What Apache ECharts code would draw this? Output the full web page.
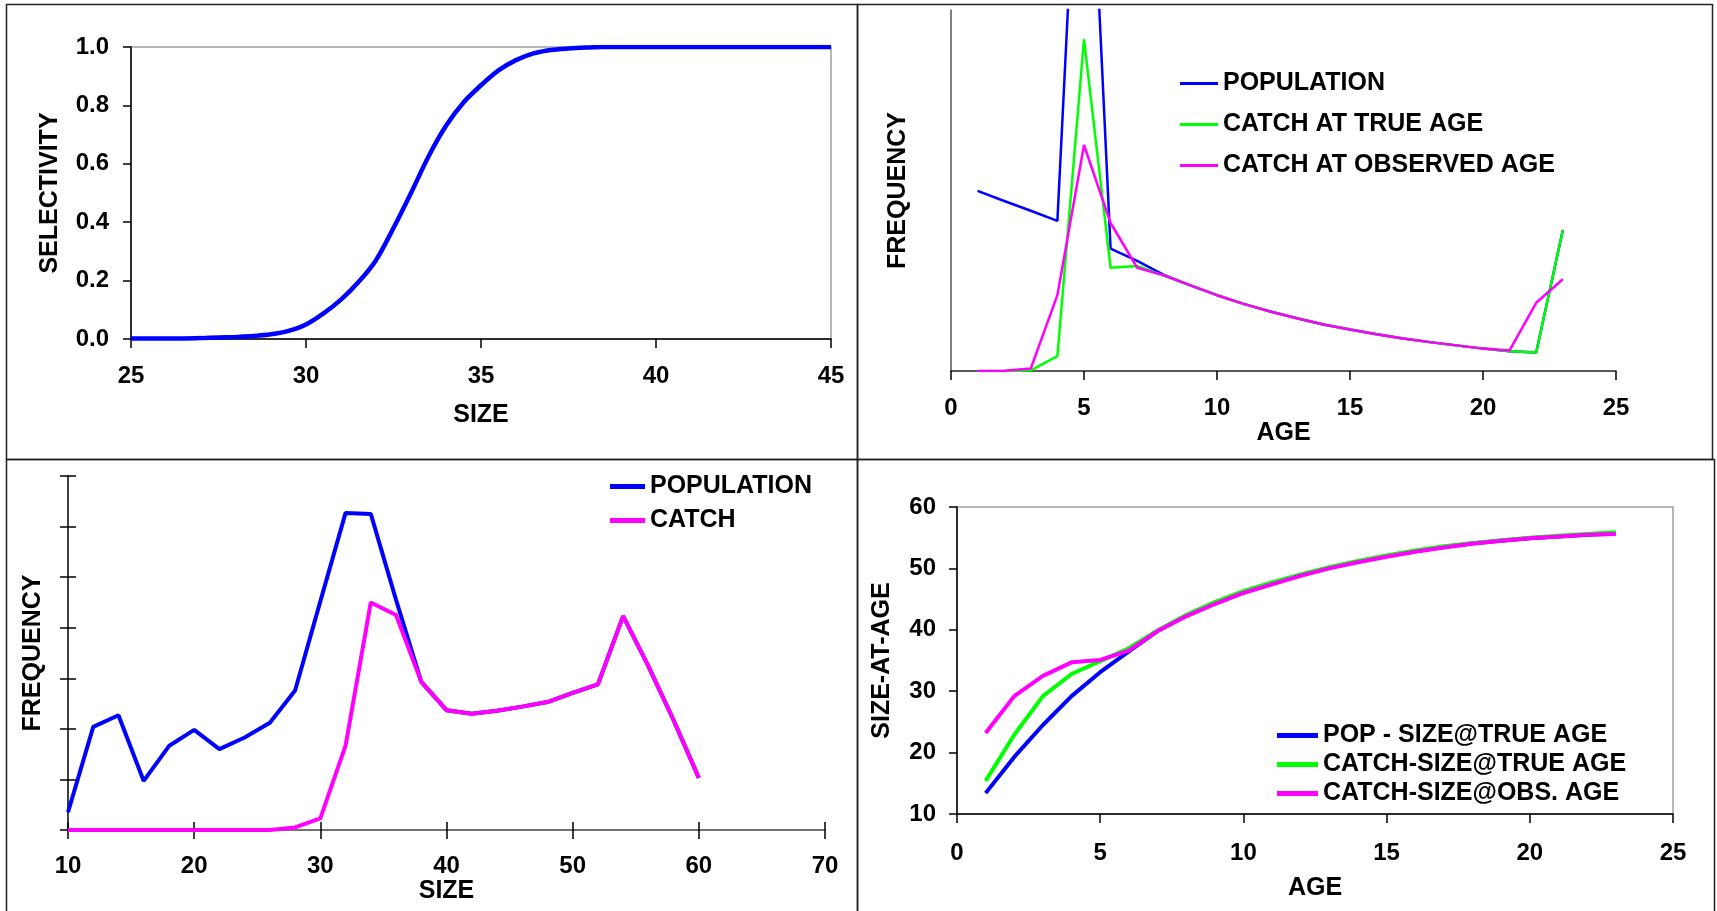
<!DOCTYPE html>
<html>
<head>
<meta charset="utf-8">
<title>Selectivity, frequency and size-at-age</title>
<script src="https://cdn.jsdelivr.net/npm/echarts@6/dist/echarts.min.js"></script>
<style>
  html, body { margin: 0; padding: 0; background: #fff; }
  #main { width: 1717px; height: 911px; }
</style>
</head>
<body>
<div id="main"></div>
<script>
// --- top left: selectivity curve
var selSize = [25, 25.5, 26, 26.5, 27, 27.5, 28, 28.5, 29, 29.5, 30, 30.5, 31, 31.5, 32, 32.5, 33, 33.5,
    34, 34.5, 35, 35.5, 36, 36.5, 37, 37.5, 38, 38.5, 39, 39.5, 40, 40.5, 41, 41.5, 42, 42.5, 43, 43.5, 44, 44.5, 45];
var selValue = [0.002, 0.002, 0.002, 0.002, 0.003, 0.005, 0.007, 0.010, 0.016, 0.028, 0.050, 0.088, 0.135, 0.195,
    0.270, 0.380, 0.500, 0.625, 0.730, 0.810, 0.869, 0.920, 0.955, 0.978, 0.990, 0.995, 0.998, 1.0, 1.0, 1.0,
    1.0, 1.0, 1.0, 1.0, 1.0, 1.0, 1.0, 1.0, 1.0, 1.0, 1.0];

// --- top right: frequency at age
var ages = [1, 2, 3, 4, 5, 6, 7, 8, 9, 10, 11, 12, 13, 14, 15, 16, 17, 18, 19, 20, 21, 22, 23];
var popAge = [49.9, 47.1, 44.4, 41.6, 190, 33.9, 30.5, 26.6, 23.7, 21.0, 18.6, 16.5, 14.6, 12.9, 11.5, 10.2, 9.0, 8.0, 7.1, 6.2, 5.5, 5.1, 39.0];
var catchTrueAge = [0, 0, 0.2, 4.1, 91.9, 28.6, 29.1, 26.4, 23.7, 21.0, 18.6, 16.5, 14.6, 12.9, 11.5, 10.2, 9.0, 8.0, 7.1, 6.2, 5.5, 5.1, 39.0];
var catchObsAge = [0, 0.05, 0.7, 21.0, 62.6, 41.0, 28.6, 26.5, 23.7, 21.0, 18.6, 16.5, 14.6, 12.9, 11.5, 10.2, 9.0, 8.0, 7.1, 6.2, 5.7, 18.9, 25.4];

// --- bottom left: frequency at size
var sizes = [10, 12, 14, 16, 18, 20, 22, 24, 26, 28, 30, 32, 34, 36, 38, 40, 42, 44, 46, 48, 50, 52, 54, 56, 58, 60];
var popSize = [0.35, 2.04, 2.27, 0.97, 1.66, 1.98, 1.60, 1.83, 2.12, 2.76, 4.52, 6.27, 6.25, 4.55, 2.93, 2.37, 2.30,
    2.36, 2.44, 2.53, 2.71, 2.88, 4.23, 3.24, 2.17, 1.03];
var catchSize = [0, 0, 0, 0, 0, 0, 0, 0, 0, 0.05, 0.23, 1.67, 4.50, 4.25, 2.93, 2.37, 2.30,
    2.36, 2.44, 2.53, 2.71, 2.88, 4.23, 3.24, 2.17, 1.03];

// --- bottom right: size at age
var popLen = [13.4, 19.3, 24.5, 29.2, 33.1, 36.5, 39.8, 42.3, 44.3, 46.1, 47.5, 48.9, 50.1, 51.1, 52.0, 52.8, 53.5, 54.1, 54.5, 54.9, 55.2, 55.5, 55.7];
var catchLenTrue = [15.4, 22.9, 29.2, 32.8, 34.9, 37.0, 39.9, 42.4, 44.5, 46.3, 47.7, 49.0, 50.2, 51.2, 52.1, 52.9, 53.6, 54.1, 54.6, 55.0, 55.3, 55.6, 55.9];
var catchLenObs = [23.2, 29.2, 32.5, 34.7, 35.1, 36.6, 39.8, 42.2, 44.2, 46.0, 47.4, 48.8, 50.0, 51.0, 51.9, 52.7, 53.4, 54.0, 54.5, 54.9, 55.2, 55.5, 55.6];

var FONT = "'Liberation Sans', Arial, sans-serif";
var BLUE = "#0000ff", GREEN = "#00ff00", MAGENTA = "#ff00ff";

function pairs(xs, ys) {
    return xs.map(function (x, i) { return [x, ys[i]]; });
}

function lineSeries(name, xi, data, color, width) {
    return {
        name: name, type: "line", xAxisIndex: xi, yAxisIndex: xi,
        data: data, symbol: "none", color: color,
        lineStyle: { color: color, width: width }
    };
}

var label = { color: "#000", fontFamily: FONT, fontWeight: "bold", fontSize: 24 };
var title = { color: "#000", fontFamily: FONT, fontWeight: "bold", fontSize: 25 };
var legendText = { color: "#000", fontFamily: FONT, fontWeight: "bold", fontSize: 25 };

function xAx(grid, min, max, step, name, gap, labelMargin, lineColor) {
    return {
        type: "value", gridIndex: grid, min: min, max: max, interval: step, position: "bottom",
        name: name, nameLocation: "middle", nameGap: gap, nameTextStyle: title,
        axisLine: { show: true, onZero: false, lineStyle: { color: lineColor || "#000", width: 1.5 } },
        axisTick: { show: true, length: 9, lineStyle: { color: "#000", width: 1.5 } },
        axisLabel: Object.assign({ margin: labelMargin }, label),
        splitLine: { show: false }
    };
}

function yAx(grid, min, max, step, name, gap, opts) {
    var a = {
        type: "value", gridIndex: grid, min: min, max: max, interval: step, position: "left",
        name: name, nameLocation: "middle", nameGap: gap, nameRotate: 90, nameTextStyle: title,
        axisLine: { show: true, onZero: false, lineStyle: { color: "#000", width: 1.5 } },
        axisTick: { show: true, length: 8, lineStyle: { color: "#000", width: 1.5 } },
        axisLabel: Object.assign({ margin: 22 }, label),
        splitLine: { show: false }
    };
    return Object.assign(a, opts || {});
}

var chart = echarts.init(document.getElementById("main"), null, { renderer: "canvas" });

var option = {
    animation: false,
    backgroundColor: "#fff",
    grid: [
        { left: 131, top: 47, width: 700, height: 292, show: true, borderColor: "#a0a0a0", borderWidth: 1.5 },
        { left: 951, top: 10, width: 665, height: 361 },
        { left: 68, top: 476, width: 757, height: 354 },
        { left: 957, top: 507, width: 716, height: 307, show: true, borderColor: "#a0a0a0", borderWidth: 1.5 }
    ],
    xAxis: [
        xAx(0, 25, 45, 5, "SIZE", 64, 25),
        xAx(1, 0, 25, 5, "AGE", 50, 25, "#222"),
        xAx(2, 10, 70, 10, "SIZE", 46, 24, "#444"),
        xAx(3, 0, 25, 5, "AGE", 62, 27),
        // inside half of the cross ticks on the size axis
        {
            type: "value", gridIndex: 2, min: 10, max: 70, interval: 10, position: "bottom",
            axisLine: { show: false }, axisLabel: { show: false }, splitLine: { show: false },
            axisTick: { show: true, inside: true, length: 8, lineStyle: { color: "#000", width: 1.5 } }
        }
    ],
    yAxis: [
        yAx(0, 0, 1, 0.2, "SELECTIVITY", 68, {
            axisLabel: Object.assign({ margin: 22, formatter: function (v) { return v.toFixed(1); } }, label)
        }),
        yAx(1, 0, 100, 20, "FREQUENCY", 40, {
            axisLine: { show: true, onZero: false, lineStyle: { color: "#555", width: 1.5 } },
            axisTick: { show: false }, axisLabel: { show: false }
        }),
        yAx(2, 0, 7, 1, "FREQUENCY", 22, { axisLabel: { show: false } }),
        yAx(3, 10, 60, 10, "SIZE-AT-AGE", 62, { axisLabel: Object.assign({ margin: 21 }, label) }),
        {
            type: "value", gridIndex: 2, min: 0, max: 7, interval: 1, position: "left",
            axisLine: { show: false }, axisLabel: { show: false }, splitLine: { show: false },
            axisTick: { show: true, inside: true, length: 8, lineStyle: { color: "#000", width: 1.5 } }
        }
    ],
    legend: [
        {
            data: ["POPULATION", "CATCH AT TRUE AGE", "CATCH AT OBSERVED AGE"],
            orient: "vertical", left: 1175, top: 66, icon: "rect", itemWidth: 38, itemHeight: 3, itemGap: 16,
            textStyle: legendText, selectedMode: false
        },
        {
            data: ["POPULATION", "CATCH"],
            orient: "vertical", left: 605, top: 469, icon: "rect", itemWidth: 35, itemHeight: 5, itemGap: 9,
            textStyle: legendText, selectedMode: false
        },
        {
            data: ["POP - SIZE@TRUE AGE", "CATCH-SIZE@TRUE AGE", "CATCH-SIZE@OBS. AGE"],
            orient: "vertical", left: 1272, top: 718, icon: "rect", itemWidth: 41, itemHeight: 5, itemGap: 4,
            textStyle: legendText, selectedMode: false
        }
    ],
    graphic: [
        { type: "rect", shape: { x: 6.5, y: 4.5, width: 851, height: 455 }, style: { fill: null, stroke: "#222", lineWidth: 1.5 } },
        { type: "rect", shape: { x: 857.5, y: 4.5, width: 855, height: 455 }, style: { fill: null, stroke: "#222", lineWidth: 1.5 } },
        { type: "rect", shape: { x: 6.5, y: 459.5, width: 851, height: 470 }, style: { fill: null, stroke: "#222", lineWidth: 1.5 } },
        { type: "rect", shape: { x: 857.5, y: 459.5, width: 857, height: 470 }, style: { fill: null, stroke: "#222", lineWidth: 1.5 } }
    ],
    series: [
        Object.assign(lineSeries("SELECTIVITY", 0, pairs(selSize, selValue), BLUE, 4.5), { smooth: 0.3 }),

        lineSeries("POPULATION", 1, pairs(ages, popAge), BLUE, 2.5),
        lineSeries("CATCH AT TRUE AGE", 1, pairs(ages, catchTrueAge), GREEN, 2.5),
        lineSeries("CATCH AT OBSERVED AGE", 1, pairs(ages, catchObsAge), MAGENTA, 2.5),

        lineSeries("POPULATION", 2, pairs(sizes, popSize), BLUE, 4),
        lineSeries("CATCH", 2, pairs(sizes, catchSize), MAGENTA, 4),

        lineSeries("POP - SIZE@TRUE AGE", 3, pairs(ages, popLen), BLUE, 4),
        lineSeries("CATCH-SIZE@TRUE AGE", 3, pairs(ages, catchLenTrue), GREEN, 4),
        lineSeries("CATCH-SIZE@OBS. AGE", 3, pairs(ages, catchLenObs), MAGENTA, 4)
    ]
};

chart.setOption(option);
</script>
</body>
</html>
